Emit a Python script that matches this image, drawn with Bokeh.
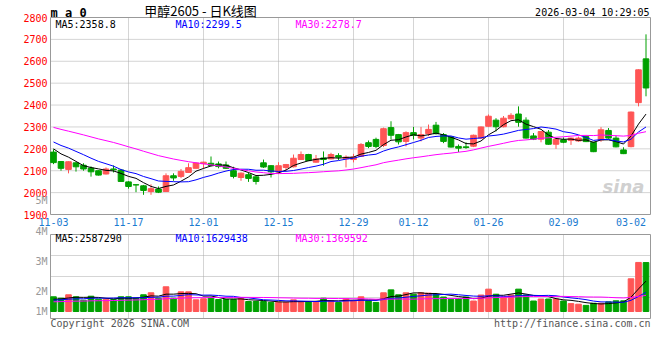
from bokeh.plotting import figure
from bokeh.models import FixedTicker, Range1d, Label, LinearAxis, ColumnDataSource
from bokeh.embed import file_html
from bokeh.resources import INLINE
import numpy as np

# ---------------- data ----------------
dates = ["11-03", "11-04", "11-05", "11-06", "11-07", "11-10", "11-11", "11-12", "11-13", "11-14",
         "11-17", "11-18", "11-19", "11-20", "11-21", "11-24", "11-25", "11-26", "11-27", "11-28",
         "12-01", "12-02", "12-03", "12-04", "12-05", "12-08", "12-09", "12-10", "12-11", "12-12",
         "12-15", "12-16", "12-17", "12-18", "12-19", "12-22", "12-23", "12-24", "12-25", "12-26",
         "12-29", "12-30", "12-31", "01-05", "01-06", "01-07", "01-08", "01-09",
         "01-12", "01-13", "01-14", "01-15", "01-16", "01-19", "01-20", "01-21", "01-22", "01-23",
         "01-26", "01-27", "01-28", "01-29", "01-30", "02-02", "02-03", "02-04", "02-05", "02-06",
         "02-09", "02-10", "02-11", "02-12", "02-13", "02-24", "02-25", "02-26", "02-27",
         "03-02", "03-03", "03-04"]

opens = [2185, 2142, 2106, 2136, 2125, 2112, 2100, 2085, 2108, 2103,
         2049, 2036, 2031, 2005, 2016, 2005, 2077, 2074, 2092, 2111,
         2132, 2134, 2131, 2126, 2100, 2069, 2082, 2072, 2136, 2123,
         2095, 2115, 2118, 2151, 2174, 2139, 2158, 2154, 2169, 2155,
         2151, 2166, 2228, 2243, 2215, 2297, 2265, 2234, 2274, 2249,
         2269, 2308, 2265, 2254, 2211, 2209, 2212, 2249, 2303, 2331,
         2301, 2337, 2359, 2331, 2259, 2244, 2276, 2221, 2241, 2239,
         2236, 2256, 2230, 2241, 2284, 2249, 2195, 2210, 2411, 2611]
highs = [2198, 2144, 2143, 2138, 2134, 2120, 2102, 2115, 2124, 2108,
         2052, 2038, 2035, 2038, 2028, 2088, 2088, 2108, 2134, 2137,
         2141, 2165, 2142, 2142, 2118, 2092, 2092, 2075, 2151, 2125,
         2139, 2131, 2174, 2188, 2177, 2172, 2188, 2182, 2180, 2170,
         2177, 2226, 2238, 2251, 2297, 2326, 2268, 2280, 2300, 2300,
         2311, 2323, 2272, 2257, 2220, 2230, 2265, 2302, 2357, 2340,
         2350, 2363, 2394, 2344, 2272, 2281, 2286, 2246, 2252, 2251,
         2256, 2260, 2232, 2299, 2295, 2261, 2207, 2370, 2563, 2723]
lows = [2130, 2100, 2088, 2096, 2100, 2073, 2078, 2083, 2092, 2050,
        2018, 2002, 1990, 1990, 1998, 2003, 2054, 2066, 2090, 2110,
        2109, 2120, 2111, 2108, 2065, 2054, 2049, 2037, 2113, 2069,
        2085, 2100, 2115, 2149, 2144, 2137, 2123, 2152, 2149, 2115,
        2138, 2164, 2203, 2203, 2208, 2242, 2220, 2211, 2243, 2234,
        2258, 2266, 2226, 2206, 2185, 2200, 2208, 2245, 2300, 2280,
        2298, 2335, 2301, 2247, 2240, 2230, 2219, 2200, 2226, 2218,
        2232, 2231, 2185, 2232, 2246, 2207, 2176, 2207, 2394, 2440]
closes = [2137, 2111, 2141, 2118, 2108, 2095, 2080, 2108, 2104, 2051,
          2028, 2035, 2010, 2018, 2002, 2077, 2067, 2097, 2114, 2135,
          2139, 2124, 2119, 2111, 2074, 2089, 2065, 2051, 2117, 2095,
          2123, 2128, 2157, 2174, 2146, 2154, 2151, 2174, 2162, 2162,
          2162, 2220, 2211, 2211, 2292, 2262, 2232, 2274, 2262, 2265,
          2289, 2269, 2234, 2208, 2203, 2206, 2262, 2300, 2349, 2301,
          2340, 2353, 2321, 2249, 2244, 2279, 2221, 2244, 2230, 2249,
          2249, 2233, 2187, 2287, 2249, 2209, 2178, 2368, 2561, 2478]
volumes = [1250000, 1130000, 1420000, 1250000, 960000, 1300000, 1050000, 1050000, 1020000, 1250000,
           1250000, 1130000, 1420000, 1590000, 1130000, 2100000, 1130000, 1670000, 1670000, 990000,
           1080000, 1190000, 1020000, 1020000, 1020000, 1100000, 850000, 850000, 850000, 770000,
           790000, 790000, 990000, 850000, 850000, 850000, 1130000, 910000, 770000, 1080000,
           910000, 1250000, 910000, 770000, 1590000, 1840000, 1420000, 1590000, 1470000, 1590000,
           1560000, 1440000, 1230000, 1030000, 1080000, 1230000, 890000, 1400000, 1900000, 1470000,
           1230000, 1400000, 1900000, 1400000, 890000, 1060000, 1060000, 1060000, 890000, 670000,
           620000, 520000, 700000, 700000, 820000, 910000, 910000, 2780000, 4170000, 4160000]

# closes / volumes of the 29 sessions before the window (estimated from the MA lines)
prev_closes = [2380, 2388, 2372, 2365, 2370, 2355, 2348, 2352, 2340, 2331,
               2325, 2330, 2318, 2305, 2310, 2296, 2288, 2292, 2285,
               2275, 2270, 2262, 2268, 2258, 2255, 2226, 2216, 2215, 2206]
prev_volumes = [720000, 800000, 680000, 750000, 700000, 780000, 820000, 740000, 690000, 760000,
                730000, 800000, 770000, 710000, 750000, 790000, 720000, 740000, 780000,
                850000, 920000, 880000, 950000, 900000, 870000, 980000, 1020000, 950000, 1000000]

price_ticks = [1900, 2000, 2100, 2200, 2300, 2400, 2500, 2600, 2700, 2800]
date_tick_labels = ["11-03", "11-17", "12-01", "12-15", "12-29", "01-12", "01-26", "02-09", "03-02"]
grid_dates = ["11-17", "12-01", "12-15", "12-29", "01-12", "01-26", "02-09"]
vol_tick_labels = ["1M", "2M", "3M", "4M", "5M"]
vol_tick_values = [0, 1700000, 4250000, 6800000, 9435000]
price_ma_text = ["MA5:2358.8", "MA10:2299.5", "MA30:2278.7"]
vol_ma_text = ["MA5:2587290", "MA10:1629438", "MA30:1369592"]
title_text = "甲醇2605 - 日K线图"
stamp_text = "2026-03-04 10:29:05"
corner_text = "m a 0"
copyright_text = "Copyright 2026 SINA.COM"
url_text = "http://finance.sina.com.cn"

# ---------------- layout helpers (pixel geometry of the panels) ----------------
W, H = 660, 360
PANEL_L, PANEL_R = 50, 650
PX_PER_BAR = 7.5
FIRST_BAR_X = 53
P_TOP_Y, P_BOT_Y = 17, 214                    # price panel, top/bottom in px
V_TOP_Y, V_BOT_Y, V_BASE_Y = 234, 318, 311    # volume panel and its zero line
S = (P_BOT_Y - P_TOP_Y) / (price_ticks[-1] - price_ticks[0])   # px per price unit
K = 85000.0                                   # volume per px


def x2i(x):
    return (x - FIRST_BAR_X) / PX_PER_BAR


def y2p(y):
    return price_ticks[0] + (P_BOT_Y - y) / S


def y2v(y):
    return (V_BASE_Y - y) * K


def moving_avg(prev, seq, w):
    allv = np.array(list(prev) + list(seq), dtype=float)
    off = len(prev)
    return [allv[off + i - w + 1: off + i + 1].mean() for i in range(len(seq))]


n = len(dates)
idx = list(range(n))
RED = "#ff5555"
GREEN = "#00a000"
colors = [RED if c >= o else GREEN for o, c in zip(opens, closes)]
src = ColumnDataSource(dict(
    x=idx, h=highs, l=lows,
    top=[max(o, c) for o, c in zip(opens, closes)],
    bot=[min(o, c) for o, c in zip(opens, closes)],
    vol=volumes, color=colors))

MONO = "DejaVu Sans Mono"
GRID_COLOR = "#aaaaaa"
FRAME_COLOR = "#999999"
ma_colors = ["#000000", "#0000ff", "#ff00ff"]

p = figure(width=W, height=H,
           x_range=Range1d(x2i(0), x2i(W)),
           y_range=Range1d(y2p(H), y2p(0)),
           output_backend="svg", toolbar_location=None,
           x_axis_location=None, y_axis_location=None,
           min_border_left=0, min_border_right=0, min_border_top=0, min_border_bottom=0)
p.extra_y_ranges = {"vol": Range1d(y2v(H), y2v(0))}
p.outline_line_color = None
p.grid.visible = False

# --- grids (dotted) ---
grid_pos = [dates.index(d) for d in grid_dates]
xl, xr = x2i(PANEL_L), x2i(PANEL_R)
p_grid_y = price_ticks[1:-1]
p.segment(x0=[xl] * len(p_grid_y), y0=p_grid_y, x1=[xr] * len(p_grid_y), y1=p_grid_y,
          line_color=GRID_COLOR, line_dash="1 1", line_width=1)
v_grid_y = [y2v(V_TOP_Y + (V_BOT_Y - V_TOP_Y) * j / 4) for j in (1, 2, 3)]
p.segment(x0=[xl] * 3, y0=v_grid_y, x1=[xr] * 3, y1=v_grid_y, y_range_name="vol",
          line_color=GRID_COLOR, line_dash="1 1", line_width=1)
p.segment(x0=grid_pos, y0=price_ticks[0], x1=grid_pos, y1=price_ticks[-1],
          line_color=GRID_COLOR, line_dash="1 1", line_width=1)
p.segment(x0=grid_pos, y0=y2v(V_BOT_Y), x1=grid_pos, y1=y2v(V_TOP_Y), y_range_name="vol",
          line_color=GRID_COLOR, line_dash="1 1", line_width=1)

# --- panel borders ---
p.quad(left=[xl], right=[xr], bottom=[price_ticks[0]], top=[price_ticks[-1]],
       fill_color=None, line_color=FRAME_COLOR, line_width=1)
p.quad(left=[xl], right=[xr], bottom=[y2v(V_BOT_Y)], top=[y2v(V_TOP_Y)],
       y_range_name="vol", fill_color=None, line_color=FRAME_COLOR, line_width=1)

axis_style = dict(axis_line_color=None, major_tick_line_color=None, minor_tick_line_color=None,
                  major_tick_out=0, major_tick_in=0, minor_tick_out=0, minor_tick_in=0,
                  major_label_text_font=MONO, major_label_text_font_size="10px",
                  major_label_standoff=3)

# --- price axis ---
pa = LinearAxis(fixed_location=xl, ticker=FixedTicker(ticks=price_ticks),
                major_label_text_color="#ff0000", **axis_style)
p.add_layout(pa, "left")

# --- volume axis ---
va = LinearAxis(y_range_name="vol", fixed_location=xl,
                ticker=FixedTicker(ticks=vol_tick_values),
                major_label_overrides={t: lab for t, lab in zip(vol_tick_values, vol_tick_labels)},
                major_label_text_color="#999999", **axis_style)
p.add_layout(va, "left")

# --- date axis under the price panel ---
tick_pos = [dates.index(d) for d in date_tick_labels]
xa = LinearAxis(fixed_location=price_ticks[0], ticker=FixedTicker(ticks=tick_pos),
                major_label_overrides={t: lab for t, lab in zip(tick_pos, date_tick_labels)},
                major_label_text_color="#1a7ad0", **axis_style)
p.add_layout(xa, "below")

# --- candles ---
p.segment(x0="x", y0="l", x1="x", y1="h", color="color", line_width=1, source=src)
p.vbar(x="x", width=0.75, top="top", bottom="bot", fill_color="color", line_color="color",
       line_width=1, source=src)
for w, col in zip([5, 10, 30], ma_colors):
    p.line(idx, moving_avg(prev_closes, closes, w), color=col, line_width=1)

# --- volume ---
p.vbar(x="x", width=0.75, top="vol", bottom=0, fill_color="color", line_color="color",
       line_width=1, source=src, y_range_name="vol")
for w, col in zip([5, 10, 30], ma_colors):
    p.line(idx, moving_avg(prev_volumes, volumes, w), color=col, line_width=1, y_range_name="vol")


def add_text(text, x, y, color="#000000", size="10px", align="left", font=MONO, style="normal",
             alpha=1.0):
    p.add_layout(Label(x=x2i(x), y=y2p(y), text=text, text_color=color, text_font=font,
                       text_font_size=size, text_font_style=style, text_align=align,
                       text_baseline="middle", text_alpha=alpha))


# legends
for t, col, xx in zip(price_ma_text, ma_colors, [55, 175, 295]):
    add_text(t, xx, 24, color=col)
for t, col, xx in zip(vol_ma_text, ma_colors, [55, 175, 295]):
    add_text(t, xx, 238, color=col)

# header / footer
add_text(corner_text, 50, 12, size="12px", style="bold")
add_text(title_text, 200, 10, size="13px", align="center", font="Noto Sans CJK SC")
add_text(stamp_text, 649, 12, align="right")
add_text(copyright_text, 50, 323, color="#555555")
add_text(url_text, 650, 323, color="#555555", align="right")

# watermark
add_text("sina", 602, 186, color="#c4c4c4", size="18px", font="DejaVu Sans", style="bold italic",
         alpha=0.8)

open("out.html", "w").write(file_html(p, INLINE))
